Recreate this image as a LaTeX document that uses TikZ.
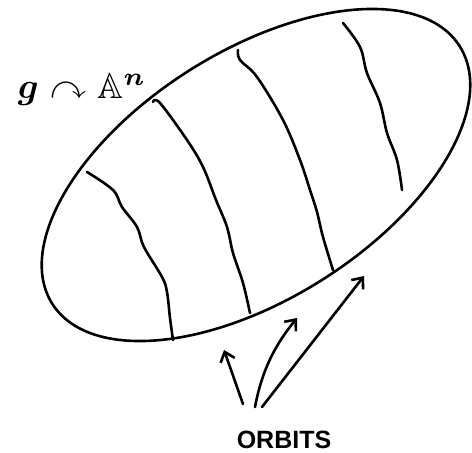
\documentclass[tikz,border=0pt]{standalone}
\usepackage{amsmath,amssymb}
\usepackage{fontspec}
\setsansfont{Liberation Sans}
\usetikzlibrary{arrows.meta}
\begin{document}
\begin{tikzpicture}[x=1pt,y=-1pt,
  ink/.style={line width=2.6pt,line cap=round,line join=round},
  orb/.style={ink,-{Straight Barb[length=9pt,width=15pt,line width=2.6pt]}},
  fiber/.style={ink}]
\useasboundingbox (0,0) rectangle (472,453);
% ellipse
\coordinate (c) at (256,175);
\draw[ink,rotate around={32.3:(c)}] (c) ellipse [x radius=241pt, y radius=124pt];
% fibres (orbits)
\draw[fiber] plot[smooth,tension=0.6] coordinates {(87,172) (113,190) (122,207) (137,227) (144,247) (162,277) (167,292) (170,318) (173,340)};
\draw[fiber] plot[smooth,tension=0.6] coordinates {(153,102) (160,103) (187,140) (203,167) (216,200) (227,227) (233,253) (243,283) (250,313)};
\draw[fiber] plot[smooth,tension=0.6] coordinates {(238,50) (240,60) (257,77) (283,120) (300,160) (310,190) (317,212) (323,237) (333,270)};
\draw[fiber] plot[smooth,tension=0.6] coordinates {(343,23) (360,47) (367,73) (380,103) (387,133) (397,160) (402,190)};
% labels
\node (act) at (82,90) {\scalebox{3.6}{\boldmath$g\curvearrowright\mathbb{A}^{n}$}};
\node[font=\sffamily\bfseries\fontsize{25}{30}\selectfont] (lab) at (284,440) {ORBITS};
\coordinate (t1) at (243,404);
\coordinate (t2) at (255,407);
\coordinate (t3) at (262,407);
\coordinate (h1) at (224,350);
\coordinate (h2) at (297,318);
\coordinate (h3) at (364,276);
\draw[orb] (t1) -- (h1);
\draw[orb] (t2) .. controls (262,370) and (275,345) .. (h2);
\draw[orb] (t3) -- (h3);
\end{tikzpicture}
\end{document}
